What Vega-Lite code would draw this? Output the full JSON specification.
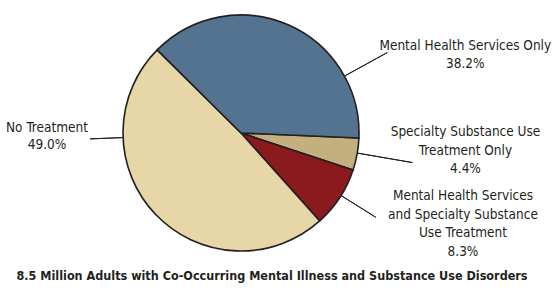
{
  "$schema": "https://vega.github.io/schema/vega-lite/v6.json",
  "autosize": {"type": "none"},
  "width": 482,
  "height": 266,
  "padding": {"left": 0, "top": 0, "right": 76, "bottom": 23},
  "background": "white",
  "config": {"view": {"stroke": null}},
  "title": {
    "text": "8.5 Million Adults with Co-Occurring Mental Illness and Substance Use Disorders",
    "orient": "bottom",
    "frame": "group",
    "anchor": "middle",
    "baseline": "alphabetic",
    "offset": 14,
    "dx": 31,
    "font": "DejaVu Sans Condensed",
    "fontSize": 12.5,
    "fontWeight": "bold",
    "color": "#231f20"
  },
  "data": {
    "values": [
      {"category": "Specialty Substance Use Treatment Only", "pct": 4.4, "rank": 1, "label": "Specialty Substance Use\nTreatment Only\n4.4%"},
      {"category": "Mental Health Services and Specialty Substance Use Treatment", "pct": 8.3, "rank": 2, "label": "Mental Health Services\nand Specialty Substance\nUse Treatment\n8.3%"},
      {"category": "No Treatment", "pct": 49.0, "rank": 3, "label": "No Treatment\n49.0%"},
      {"category": "Mental Health Services Only", "pct": 38.2, "rank": 4, "label": "Mental Health Services Only\n38.2%"}
    ]
  },
  "transform": [
    {"stack": "pct", "groupby": [], "sort": [{"field": "rank", "order": "ascending"}], "as": ["p0", "p1"]}
  ],
  "layer": [
    {
      "mark": {"type": "arc", "radius": 118, "stroke": "#231f20", "strokeWidth": 1.6},
      "encoding": {
        "theta": {"field": "p0", "type": "quantitative", "scale": {"domain": [0, 99.9], "range": [1.6127, 7.8959]}},
        "theta2": {"field": "p1"},
        "color": {
          "field": "category", "type": "nominal", "legend": null,
          "scale": {
            "domain": ["Specialty Substance Use Treatment Only", "Mental Health Services and Specialty Substance Use Treatment", "No Treatment", "Mental Health Services Only"],
            "range": ["#c4b07e", "#8a1a1e", "#e6d6a8", "#537390"]
          }
        }
      }
    },
    {
      "transform": [{"filter": "datum.rank == 4"}],
      "mark": {"type": "arc", "radius": 118, "radius2": 167, "thetaOffset": 1.858, "theta2Offset": 1.858, "fill": null, "stroke": "#231f20", "strokeWidth": 1},
      "encoding": {"theta": {"field": "p0", "type": "quantitative"}, "theta2": {"field": "p0"}}
    },
    {
      "transform": [{"filter": "datum.rank == 1"}],
      "mark": {"type": "arc", "radius": 118, "radius2": 174, "thetaOffset": 0.129, "theta2Offset": 0.129, "fill": null, "stroke": "#231f20", "strokeWidth": 1},
      "encoding": {"theta": {"field": "p0", "type": "quantitative"}, "theta2": {"field": "p0"}}
    },
    {
      "transform": [{"filter": "datum.rank == 2"}],
      "mark": {"type": "arc", "radius": 118, "radius2": 159, "thetaOffset": 0.24, "theta2Offset": 0.24, "fill": null, "stroke": "#231f20", "strokeWidth": 1},
      "encoding": {"theta": {"field": "p0", "type": "quantitative"}, "theta2": {"field": "p0"}}
    },
    {
      "transform": [{"filter": "datum.rank == 3"}],
      "mark": {"type": "arc", "radius": 118, "radius2": 151, "thetaOffset": 2.262, "theta2Offset": 2.262, "fill": null, "stroke": "#231f20", "strokeWidth": 1},
      "encoding": {"theta": {"field": "p0", "type": "quantitative"}, "theta2": {"field": "p0"}}
    },
    {
      "transform": [{"filter": "datum.rank == 4"}],
      "mark": {"type": "text", "radius": 239.2, "thetaOffset": 2.006, "align": "center", "baseline": "alphabetic", "lineBreak": "\n", "lineHeight": 18.5, "font": "DejaVu Sans Condensed", "fontSize": 13.5, "color": "#231f20"},
      "encoding": {"theta": {"field": "p0", "type": "quantitative"}, "text": {"field": "label"}}
    },
    {
      "transform": [{"filter": "datum.rank == 1"}],
      "mark": {"type": "text", "radius": 224.5, "thetaOffset": -0.0285, "align": "center", "baseline": "alphabetic", "lineBreak": "\n", "lineHeight": 18.5, "font": "DejaVu Sans Condensed", "fontSize": 13.5, "color": "#231f20"},
      "encoding": {"theta": {"field": "p0", "type": "quantitative"}, "text": {"field": "label"}}
    },
    {
      "transform": [{"filter": "datum.rank == 2"}],
      "mark": {"type": "text", "radius": 232, "thetaOffset": -0.0237, "align": "center", "baseline": "alphabetic", "lineBreak": "\n", "lineHeight": 18.5, "font": "DejaVu Sans Condensed", "fontSize": 13.5, "color": "#231f20"},
      "encoding": {"theta": {"field": "p0", "type": "quantitative"}, "text": {"field": "label"}}
    },
    {
      "transform": [{"filter": "datum.rank == 3"}],
      "mark": {"type": "text", "radius": 194, "thetaOffset": 2.306, "align": "center", "baseline": "alphabetic", "lineBreak": "\n", "lineHeight": 17, "font": "DejaVu Sans Condensed", "fontSize": 13.5, "color": "#231f20"},
      "encoding": {"theta": {"field": "p0", "type": "quantitative"}, "text": {"field": "label"}}
    }
  ]
}
